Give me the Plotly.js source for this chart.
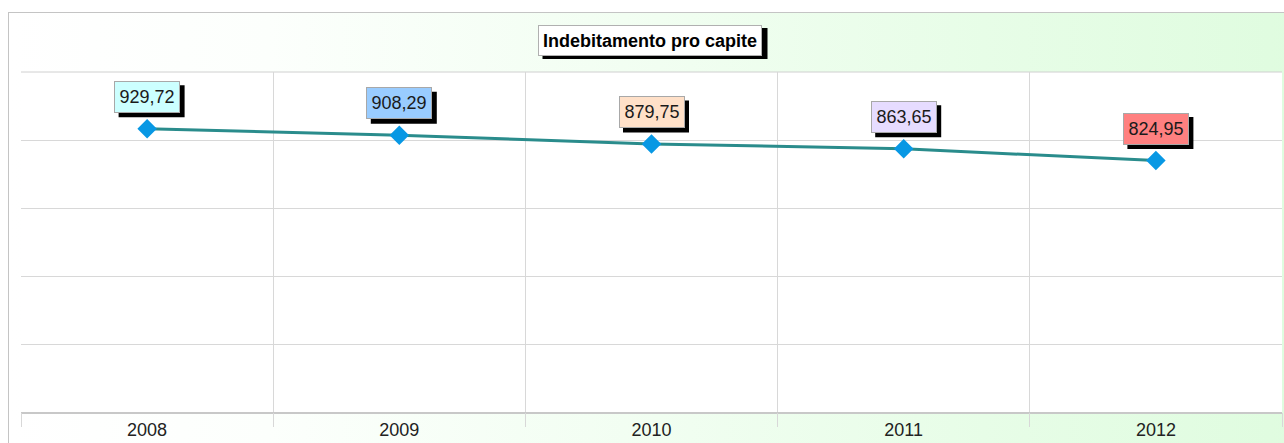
<!DOCTYPE html>
<html>
<head>
<meta charset="utf-8">
<script src="https://cdn.plot.ly/plotly-3.0.1.min.js"></script>
<style>
  html, body { margin: 0; padding: 0; width: 1284px; height: 443px; overflow: hidden; background: #ffffff; }
  #frame { position: absolute; left: 8px; top: 12px; width: 1300px; height: 460px;
           border: 1px solid #c4c4c4;
           background: linear-gradient(90deg, #ffffff 0%, #fcfffc 20%, #f1fef1 50%, #e7fde7 75%, #dffcdf 100%); }
  #chart { position: absolute; left: 0; top: 0; width: 1284px; height: 443px; }
</style>
</head>
<body>
<div id="frame"></div>
<div id="chart"></div>
<script>
const chartTitle = "Indebitamento pro capite";
const years = ["2008", "2009", "2010", "2011", "2012"];
const values = [929.72, 908.29, 879.75, 863.65, 824.95];
const valueLabels = ["929,72", "908,29", "879,75", "863,65", "824,95"];
const labelColors = ["#ccffff", "#99ccff", "#ffe0c8", "#e6dcff", "#ff8080"];

const yMax = Math.max(...values) * 1.2;
const FONT = 'Arial, "Liberation Sans", sans-serif';

const annotations = [];
const shapes = [];
years.forEach((yr, i) => {
  // drop shadow of the value box (pixel-sized, anchored at the data point)
  shapes.push({
    type: 'rect', layer: 'above', xref: 'x', yref: 'y',
    xsizemode: 'pixel', ysizemode: 'pixel', xanchor: i, yanchor: values[i],
    x0: -28.5, x1: 37.5, y0: 11.5, y1: 43.5,
    fillcolor: '#000000', line: {width: 0}
  });
  annotations.push({
    x: i, y: values[i], xref: 'x', yref: 'y', showarrow: false,
    text: valueLabels[i], font: {family: FONT, size: 18, color: '#1a1a1a'},
    bgcolor: labelColors[i], bordercolor: '#a8a8a8', borderwidth: 1, borderpad: 2,
    width: 60, height: 26, xshift: 0, yshift: 32, yanchor: 'middle', xanchor: 'center'
  });
});
// title box shadow
shapes.push({
  type: 'rect', layer: 'above', xref: 'paper', yref: 'paper',
  xsizemode: 'pixel', ysizemode: 'pixel', xanchor: 0.5, yanchor: 1,
  x0: -109, x1: 116, y0: 13, y1: 44,
  fillcolor: '#000000', line: {width: 0}
});
// top border of the plot area
shapes.push({
  type: 'line', layer: 'below', xref: 'paper', yref: 'paper',
  x0: 0, x1: 1, y0: 1, y1: 1, line: {color: '#d0d0d0', width: 1}
});
annotations.push({
  x: 0.5, y: 1, xref: 'paper', yref: 'paper', showarrow: false,
  text: '<b>' + chartTitle + '</b>', font: {family: FONT, size: 18, color: '#000000'},
  bgcolor: '#ffffff', bordercolor: '#b0b0b0', borderwidth: 1, borderpad: 3,
  width: 216, height: 23, xshift: -1.5, yshift: 32, yanchor: 'middle', xanchor: 'center'
});

const trace = {
  x: years, y: values, type: 'scatter', mode: 'lines+markers',
  line: {color: '#2a8c8c', width: 3},
  marker: {symbol: 'diamond', size: 15, color: '#0898e4', line: {width: 0}},
  hoverinfo: 'x+y', cliponaxis: false
};
// helper trace on the overlaid axis that draws the category-boundary ticks
const boundaryTrace = {
  x: years, y: values, xaxis: 'x2', yaxis: 'y', type: 'scatter', mode: 'none',
  hoverinfo: 'skip', showlegend: false
};

const layout = {
  width: 1284, height: 443,
  margin: {l: 21, r: 2, t: 72, b: 31, pad: 0},
  paper_bgcolor: 'rgba(0,0,0,0)',
  plot_bgcolor: '#ffffff',
  showlegend: false,
  xaxis: {
    type: 'category', categoryorder: 'array', categoryarray: years,
    range: [-0.5, 4.5], ticks: '', showgrid: false,
    showline: true, linecolor: '#c8c8c8', linewidth: 2,
    tickfont: {family: FONT, size: 18, color: '#222222'}, fixedrange: true
  },
  xaxis2: {
    type: 'category', categoryorder: 'array', categoryarray: years,
    overlaying: 'x', anchor: 'y', side: 'bottom', range: [-0.5, 4.5],
    tickson: 'boundaries', ticks: 'outside', ticklen: 14, tickwidth: 1, tickcolor: '#d8d8d8',
    showgrid: true, gridcolor: '#d8d8d8', gridwidth: 1, showticklabels: false,
    showline: false, fixedrange: true
  },
  yaxis: {
    range: [0, yMax + 0.05], tick0: 0, dtick: yMax / 5, showticklabels: false,
    ticks: '', showgrid: true, gridcolor: '#d8d8d8', gridwidth: 1, zeroline: false,
    showline: false, fixedrange: true
  },
  shapes: shapes,
  annotations: annotations
};

Plotly.newPlot('chart', [boundaryTrace, trace], layout, {displayModeBar: false, staticPlot: true});
</script>
</body>
</html>
